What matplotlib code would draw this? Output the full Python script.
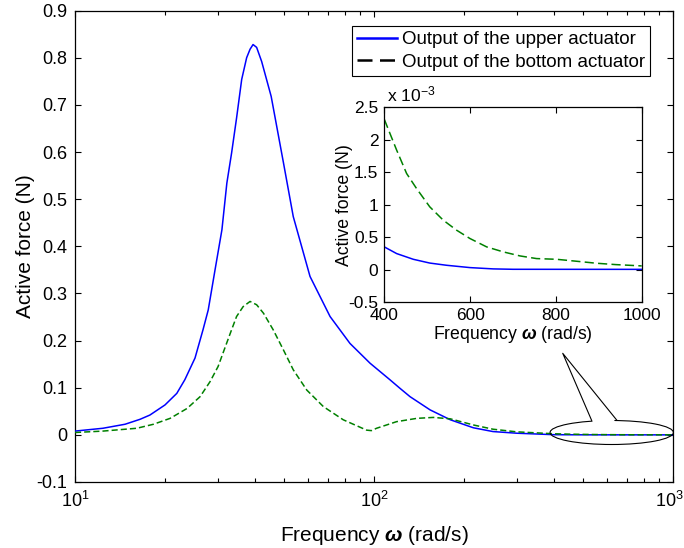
import numpy as np
import matplotlib
matplotlib.use('Agg')
import matplotlib.pyplot as plt
from matplotlib.patches import Ellipse, Polygon
from matplotlib.lines import Line2D
from matplotlib.transforms import ScaledTranslation
from matplotlib.ticker import FixedLocator, LogLocator, NullFormatter, FixedFormatter

plt.rcParams['font.family'] = ['Liberation Sans', 'DejaVu Sans']
plt.rcParams['mathtext.fontset'] = 'custom'
plt.rcParams['mathtext.rm'] = 'Liberation Sans'
plt.rcParams['mathtext.it'] = 'Liberation Sans:italic:bold'
plt.rcParams['mathtext.bf'] = 'Liberation Sans:bold'

# ---------------- data (main plot, 10 .. 300 rad/s) ----------------
freq_upper = [10, 12.4, 14.7, 16.5, 17.8, 20, 21.9, 23.3, 25.2, 26.8, 27.9, 29.4,
              31.0, 32.2, 33.4, 34.7, 36.1, 37.5, 38.5, 39.4, 40.5, 42.1, 45.3, 49.8,
              53.7, 61.1, 71.3, 83.1, 97, 113, 122, 132, 154, 180, 215, 250, 300]
force_upper = [0.008, 0.014, 0.0225, 0.033, 0.042, 0.0635, 0.088, 0.117, 0.163,
               0.223, 0.265, 0.35, 0.435, 0.534, 0.598, 0.672, 0.754, 0.80, 0.818,
               0.828, 0.822, 0.792, 0.718, 0.577, 0.463, 0.336, 0.251, 0.194, 0.152,
               0.117, 0.099, 0.081, 0.053, 0.032, 0.015, 0.007, 0.0035]

freq_bottom = [10, 12.4, 16.1, 18.3, 20.8, 23.7, 26.2, 28.3, 30.1, 31.7, 33.4, 34.7,
               36.5, 38.5, 40.5, 42.7, 46, 49.8, 53.7, 59.6, 67.7, 78.9, 94.5, 98,
               102, 119, 139, 158, 180, 215, 250, 300]
force_bottom = [0.005, 0.008, 0.014, 0.0225, 0.035, 0.056, 0.081, 0.113, 0.145,
                0.184, 0.223, 0.251, 0.272, 0.283, 0.276, 0.258, 0.223, 0.18, 0.138,
                0.095, 0.06, 0.032, 0.010, 0.009, 0.014, 0.028, 0.035, 0.037, 0.034,
                0.021, 0.012, 0.0064]

# ---------------- data (zoomed range, 400 .. 1000 rad/s), in N ----------------
freq_zoom_upper = [400, 428.8, 467.6, 506, 545, 599.7, 654, 700, 1000]
force_zoom_upper = [0.349e-3, 0.246e-3, 0.158e-3, 0.100e-3, 0.066e-3, 0.030e-3,
                    0.010e-3, 0.004e-3, 0.003e-3]
freq_zoom_bottom = [400, 413, 428.8, 452, 475, 506, 537.5, 568.6, 599.7, 638.6,
                    677.4, 716.3, 755, 801.6, 848, 895, 940, 1000]
force_zoom_bottom = [2.315e-3, 2.10e-3, 1.84e-3, 1.48e-3, 1.25e-3, 0.966e-3,
                     0.76e-3, 0.606e-3, 0.478e-3, 0.349e-3, 0.272e-3, 0.21e-3,
                     0.169e-3, 0.158e-3, 0.128e-3, 0.097e-3, 0.076e-3, 0.056e-3]

# ---------------- ticks / labels ----------------
main_yticks = [-0.1, 0, 0.1, 0.2, 0.3, 0.4, 0.5, 0.6, 0.7, 0.8, 0.9]
main_yticklabels = ['-0.1', '0', '0.1', '0.2', '0.3', '0.4', '0.5', '0.6', '0.7', '0.8', '0.9']
main_xticks = [10, 100, 1000]
main_xticklabels = ['$10^{1}$', '$10^{2}$', '$10^{3}$']
inset_xticks = [400, 600, 800, 1000]
inset_xticklabels = ['400', '600', '800', '1000']
inset_yticks = [-0.5e-3, 0, 0.5e-3, 1e-3, 1.5e-3, 2e-3, 2.5e-3]
inset_yticklabels = ['-0.5', '0', '0.5', '1', '1.5', '2', '2.5']
legend_labels = ['Output of the upper actuator', 'Output of the bottom actuator']

BLUE = '#0000FF'
GREEN = '#008000'

W, H = 684, 548
fig = plt.figure(figsize=(W / 100, H / 100), dpi=100)

# main axes
ax = fig.add_axes([75 / W, 1 - 482 / H, 598 / W, 471.4 / H])
ax.set_xscale('log')
ax.plot(freq_upper + freq_zoom_upper, force_upper + force_zoom_upper,
        color=BLUE, lw=1.1, zorder=3)
ax.plot(freq_bottom + freq_zoom_bottom, force_bottom + force_zoom_bottom,
        color=GREEN, lw=1.1, dashes=(4, 2), zorder=4)
ax.set_xlim(10, 1000)
ax.set_ylim(-0.1, 0.9)
ax.yaxis.set_major_locator(FixedLocator(main_yticks))
ax.yaxis.set_major_formatter(FixedFormatter(main_yticklabels))
ax.xaxis.set_major_locator(FixedLocator(main_xticks))
ax.xaxis.set_major_formatter(FixedFormatter(main_xticklabels))
ax.xaxis.set_minor_locator(LogLocator(base=10, subs=np.arange(2, 10)))
ax.xaxis.set_minor_formatter(NullFormatter())
ax.tick_params(which='both', direction='in', top=True, right=True, labelsize=13,
               width=0.8, color='black')
ax.tick_params(which='major', length=4.5)
ax.tick_params(which='minor', length=3)
ax.tick_params(axis='y', pad=5.8)
ax.tick_params(axis='x', pad=6.5)
for s in ax.spines.values():
    s.set_linewidth(0.9)
ax.set_xlabel('Frequency $\\omega$ (rad/s)', fontsize=15)
ax.set_ylabel('Active force (N)', fontsize=15)
ax.xaxis.set_label_coords(0.5, -0.089)
ax.yaxis.set_label_coords(-0.067, 0.5)

handles = [Line2D([], [], color=BLUE, lw=1.8),
           Line2D([], [], color='black', lw=1.8, dashes=(6, 3))]
leg = ax.legend(handles, legend_labels, loc='upper right',
                bbox_to_anchor=(650 / W, 1 - 26 / H), bbox_transform=fig.transFigure,
                borderaxespad=0, fontsize=13.5, handlelength=2.1, handletextpad=0.27,
                borderpad=0.27, labelspacing=0.3, fancybox=False, framealpha=1)
leg.get_frame().set_edgecolor('black')
leg.get_frame().set_linewidth(0.8)

# callout ellipse + tail (axes-fraction coordinates)
ell = Ellipse((0.8975, 0.105), 0.2062, 0.0509, transform=ax.transAxes,
              fill=False, edgecolor='black', lw=0.8, clip_on=False, zorder=6)
ax.add_patch(ell)
tip = (0.8156, 0.273)
bl = (0.864, 0.1305)
br = (0.9058, 0.1315)
cover = Polygon([tip, (bl[0] + 0.002, bl[1] - 0.004), (br[0] - 0.002, br[1] - 0.004)],
                closed=True, transform=ax.transAxes, facecolor='white',
                edgecolor='none', clip_on=False, zorder=7)
ax.add_patch(cover)
ax.add_line(Line2D([bl[0], tip[0], br[0]], [bl[1], tip[1], br[1]], transform=ax.transAxes,
                   color='black', lw=0.8, clip_on=False, zorder=8))

# inset axes
axi = fig.add_axes([384.3 / W, 1 - 302 / H, 257.4 / W, 194.7 / H])
axi.plot(freq_zoom_upper, force_zoom_upper, color=BLUE, lw=1.1)
axi.plot(freq_zoom_bottom, force_zoom_bottom, color=GREEN, lw=1.1, dashes=(6, 2.8))
axi.set_xlim(400, 1000)
axi.set_ylim(-0.5e-3, 2.5e-3)
axi.xaxis.set_major_locator(FixedLocator(inset_xticks))
axi.xaxis.set_major_formatter(FixedFormatter(inset_xticklabels))
axi.yaxis.set_major_locator(FixedLocator(inset_yticks))
axi.yaxis.set_major_formatter(FixedFormatter(inset_yticklabels))
axi.tick_params(direction='in', top=True, right=True, labelsize=12.5, length=4,
                width=0.8, pad=4.3)
for s in axi.spines.values():
    s.set_linewidth(0.9)
axi.set_xlabel('Frequency $\\omega$ (rad/s)', fontsize=12.7, labelpad=1)
axi.set_ylabel('Active force (N)', fontsize=12.7)
axi.yaxis.set_label_coords(-0.1235, 0.5)
axi.text(0.01, 1.028, 'x 10$^{-3}$', transform=axi.transAxes, ha='left',
         va='baseline', fontsize=12.6)

# nudge the last x tick label so it stays inside the canvas, as in the reference
fig.canvas.draw()
last_tick = ax.xaxis.get_major_ticks()[-1]
last_tick.label1.set_transform(last_tick.label1.get_transform()
                               + ScaledTranslation(-0.035, 0, fig.dpi_scale_trans))

fig.savefig('out.png', dpi=100)
